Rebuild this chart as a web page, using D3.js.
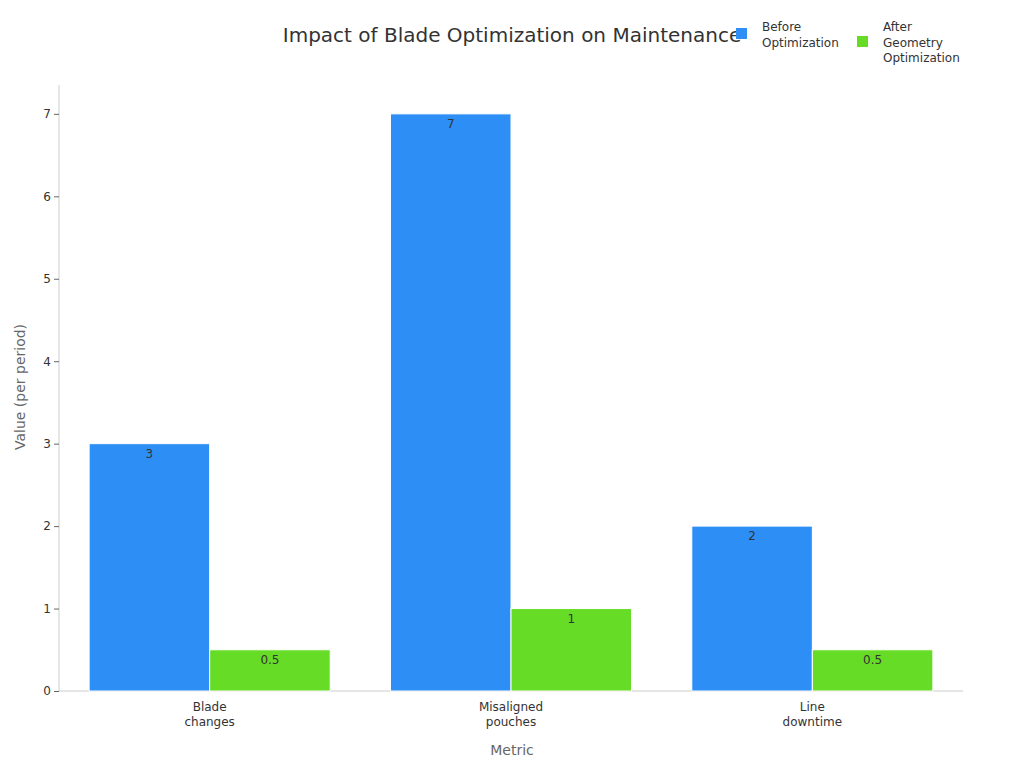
<!DOCTYPE html>
<html><head><meta charset="utf-8">
<script src="https://cdn.jsdelivr.net/npm/d3@7"></script>
<style>body{margin:0;background:#fff;font-family:"DejaVu Sans",sans-serif}</style>
</head><body><svg id="c" width="1024" height="768"></svg>
<script>
const categories = [["Blade","changes"],["Misaligned","pouches"],["Line","downtime"]];
const seriesNames = [["Before","Optimization"],["After","Geometry","Optimization"]];
const before = [3,7,2];
const after = [0.5,1,0.5];
const yTicks = [0,1,2,3,4,5,6,7];
const colors = ["#2d8ff5","#66dc26"];
const series=[before,after];

const svg=d3.select("#c");
const m={l:59,r:963,t:85,b:691};
const x=d3.scaleBand().domain(d3.range(categories.length)).range([m.l,m.r]).paddingInner(0.2).paddingOuter(0.1);
const xs=d3.scaleBand().domain([0,1]).range([0,x.bandwidth()]);
const y=d3.scaleLinear().domain([0,7.35]).range([m.b,m.t]);

svg.append("text").attr("x",512).attr("y",42).attr("text-anchor","middle").attr("font-size",20).attr("fill","#333").text("Impact of Blade Optimization on Maintenance");

const ya=svg.append("g").attr("transform",`translate(${m.l},0)`).call(d3.axisLeft(y).tickValues(yTicks).tickSize(5).tickFormat(d3.format("d")));
ya.select(".domain").attr("stroke","#ccc").attr("d",`M0,${m.t}V${m.b}`);
ya.selectAll(".tick line").attr("stroke","#666");
ya.selectAll("text").attr("font-size",12).attr("fill","#333").attr("font-family","DejaVu Sans");
svg.append("line").attr("x1",m.l).attr("x2",m.r).attr("y1",m.b).attr("y2",m.b).attr("stroke","#ccc");

series.forEach((s,si)=>{
  s.forEach((v,i)=>{
    const bx=x(i)+xs(si);
    svg.append("rect").attr("x",bx).attr("y",y(v)).attr("width",xs.bandwidth()).attr("height",y(0)-y(v)).attr("fill",colors[si]).attr("stroke","#fff").attr("stroke-width",1);
    svg.append("text").attr("x",bx+xs.bandwidth()/2).attr("y",y(v)+14).attr("text-anchor","middle").attr("font-size",12).attr("fill","#333").text(v);
  });
});
categories.forEach((c,i)=>{
  c.forEach((t,j)=>svg.append("text").attr("x",x(i)+x.bandwidth()/2).attr("y",711+j*15).attr("text-anchor","middle").attr("font-size",12).attr("fill","#333").text(t));
});
svg.append("text").attr("x",512).attr("y",755).attr("text-anchor","middle").attr("font-size",14).attr("fill","#666").text("Metric");
svg.append("text").attr("transform","translate(25,387) rotate(-90)").attr("text-anchor","middle").attr("font-size",14).attr("fill","#666").text("Value (per period)");

const lx=[736,857],ly=[28,36];
seriesNames.forEach((n,i)=>{
  svg.append("rect").attr("x",lx[i]).attr("y",ly[i]).attr("width",11).attr("height",11).attr("fill",colors[i]);
  n.forEach((t,j)=>svg.append("text").attr("x",lx[i]+26).attr("y",31+j*15.5).attr("font-size",12).attr("fill","#333").text(t));
});
</script></body></html>
